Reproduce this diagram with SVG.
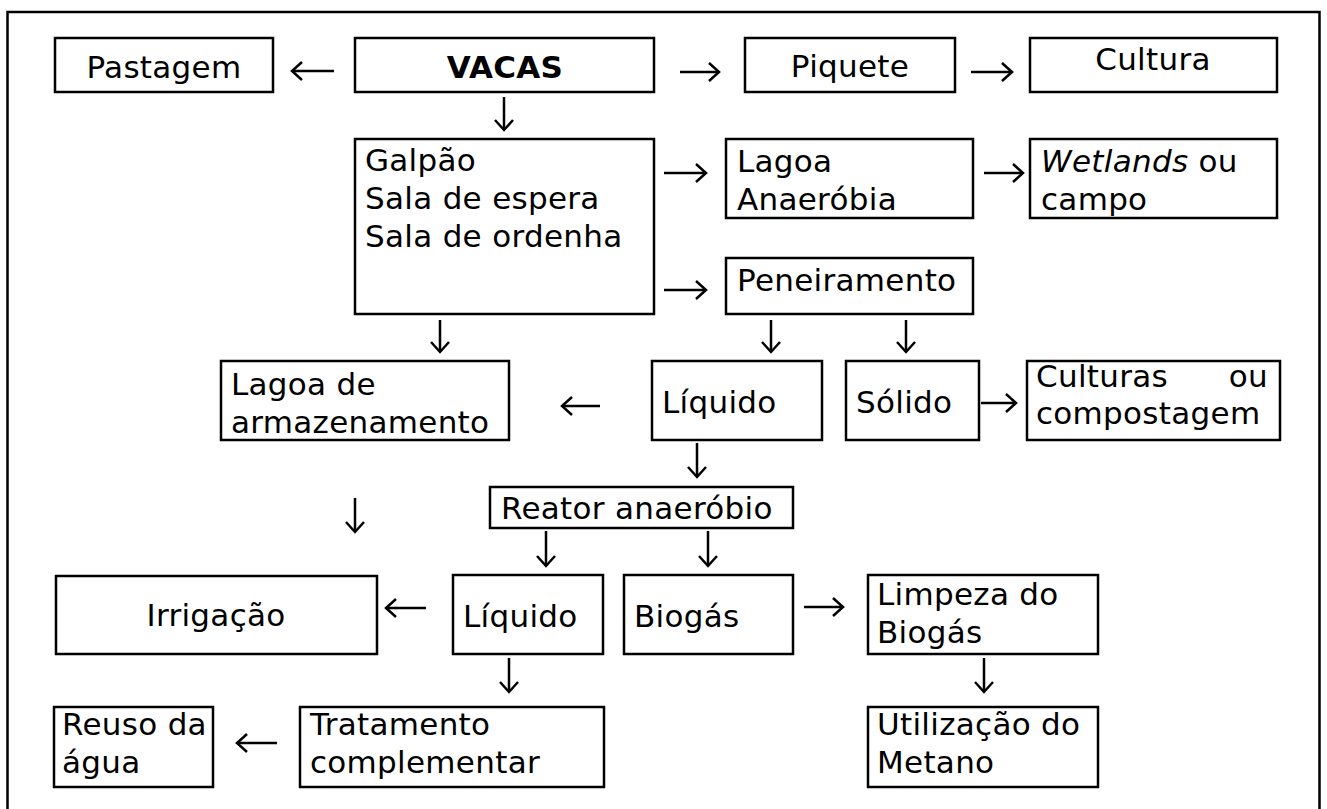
<svg xmlns="http://www.w3.org/2000/svg" width="1327" height="809" viewBox="0 0 1327 809">
<style>
.b{fill:#fff;stroke:#000;stroke-width:2.5}
.t{font-family:"DejaVu Sans",Verdana,sans-serif;font-size:31px;fill:#000;letter-spacing:0.3px}
.c{text-anchor:middle}
.a{stroke:#000;stroke-width:2.5;fill:none;marker-end:url(#h)}
</style>
<defs>
<marker id="h" markerUnits="userSpaceOnUse" markerWidth="16" markerHeight="24" viewBox="0 0 16 24" refX="13" refY="12" orient="auto">
<path d="M3,3 L13,12 L3,21" fill="none" stroke="#000" stroke-width="2.5"/>
</marker>
</defs>
<rect x="7.5" y="12" width="1312" height="812" fill="#fff" stroke="#000" stroke-width="2.5"/>
<g id="connectors">
<path class="a" d="M334,71 H292"/>
<path class="a" d="M680,72 H719"/>
<path class="a" d="M971,72 H1012"/>
<path class="a" d="M504,97 V130"/>
<path class="a" d="M664,173 H706"/>
<path class="a" d="M984,173 H1023"/>
<path class="a" d="M664,290 H706"/>
<path class="a" d="M440,320 V352"/>
<path class="a" d="M771,320 V352"/>
<path class="a" d="M906,320 V352"/>
<path class="a" d="M600,406 H562"/>
<path class="a" d="M981,403 H1016"/>
<path class="a" d="M697,443 V477"/>
<path class="a" d="M355,498 V532"/>
<path class="a" d="M546,531 V566"/>
<path class="a" d="M708,531 V566"/>
<path class="a" d="M426,608 H386"/>
<path class="a" d="M804,607 H843"/>
<path class="a" d="M509,658 V692"/>
<path class="a" d="M984,658 V692"/>
<path class="a" d="M277,743 H237"/>
</g>
<g id="pastagem"><rect class="b" x="55" y="38" width="218" height="54"/><text class="t c" x="164" y="78">Pastagem</text></g>
<g id="vacas"><rect class="b" x="355" y="38" width="299" height="54"/><text class="t c" x="505" y="78" font-weight="bold">VACAS</text></g>
<g id="piquete"><rect class="b" x="745" y="38" width="210" height="54"/><text class="t c" x="850" y="77">Piquete</text></g>
<g id="cultura"><rect class="b" x="1030" y="38" width="247" height="54"/><text class="t c" x="1153" y="70">Cultura</text></g>
<g id="galpao"><rect class="b" x="355" y="139" width="299" height="175"/><text class="t" x="365" y="171">Galpão</text><text class="t" x="365" y="209">Sala de espera</text><text class="t" x="365" y="247">Sala de ordenha</text></g>
<g id="lagoa-anaerobia"><rect class="b" x="726" y="139" width="247" height="79"/><text class="t" x="737" y="172">Lagoa</text><text class="t" x="737" y="210">Anaeróbia</text></g>
<g id="wetlands"><rect class="b" x="1030" y="139" width="247" height="79"/><text class="t" x="1041" y="172"><tspan font-style="italic">Wetlands</tspan> ou</text><text class="t" x="1041" y="210">campo</text></g>
<g id="peneiramento"><rect class="b" x="726" y="258" width="247" height="56"/><text class="t" x="737" y="291">Peneiramento</text></g>
<g id="lagoa-armazenamento"><rect class="b" x="221" y="361" width="288" height="79"/><text class="t" x="231" y="395">Lagoa de</text><text class="t" x="231" y="433">armazenamento</text></g>
<g id="liquido1"><rect class="b" x="652" y="361" width="170" height="79"/><text class="t" x="662" y="413">Líquido</text></g>
<g id="solido"><rect class="b" x="846" y="361" width="133" height="79"/><text class="t" x="856" y="413">Sólido</text></g>
<g id="culturas"><rect class="b" x="1027" y="361" width="253" height="79"/><text class="t" x="1036" y="387">Culturas</text><text class="t" x="1268" y="387" text-anchor="end">ou</text><text class="t" x="1036" y="424">compostagem</text></g>
<g id="reator"><rect class="b" x="490" y="487" width="303" height="41"/><text class="t" x="501" y="519">Reator anaeróbio</text></g>
<g id="irrigacao"><rect class="b" x="56" y="576" width="321" height="78"/><text class="t c" x="216" y="626">Irrigação</text></g>
<g id="liquido2"><rect class="b" x="453" y="575" width="150" height="79"/><text class="t" x="463" y="627">Líquido</text></g>
<g id="biogas"><rect class="b" x="624" y="575" width="169" height="79"/><text class="t" x="634" y="627">Biogás</text></g>
<g id="limpeza"><rect class="b" x="868" y="575" width="230" height="79"/><text class="t" x="877" y="605">Limpeza do</text><text class="t" x="877" y="643">Biogás</text></g>
<g id="reuso"><rect class="b" x="54" y="707" width="159" height="80"/><text class="t" x="62" y="735">Reuso da</text><text class="t" x="62" y="773">água</text></g>
<g id="tratamento"><rect class="b" x="300" y="707" width="304" height="80"/><text class="t" x="310" y="735">Tratamento</text><text class="t" x="310" y="773">complementar</text></g>
<g id="utilizacao"><rect class="b" x="868" y="707" width="230" height="80"/><text class="t" x="877" y="735">Utilização do</text><text class="t" x="877" y="773">Metano</text></g>
</svg>
